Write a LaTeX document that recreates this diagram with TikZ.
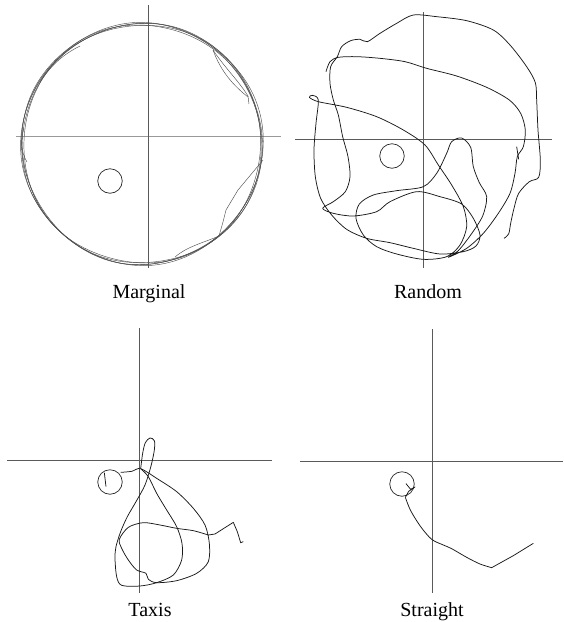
\documentclass[tikz,border=0pt]{standalone}
\usepackage{fontspec}
\setmainfont{Liberation Serif}
\usetikzlibrary{positioning}
\definecolor{axisgray}{RGB}{90,90,90}
\definecolor{lapgray}{RGB}{80,80,80}

\begin{document}
\begin{tikzpicture}[x=1pt, y=-1pt,
    axis/.style={draw=axisgray, line width=0.9pt},
    lightaxis/.style={draw=black!40, line width=0.8pt},
    track/.style={draw=black!90, line width=0.75pt, line join=round},
    lap/.style={draw=lapgray, line width=0.45pt},
    platform/.style={circle, draw=black!85, line width=0.7pt, minimum size=24.5pt, inner sep=0pt},
    caption/.style={anchor=base, inner sep=0pt, font=\fontsize{20}{24}\selectfont}
  ]
  \useasboundingbox (0,0) rectangle (564,622);

  % Marginal
  \draw[lightaxis] (16,136) -- (281,136);
  \draw[axis] (148,5) -- (148,268);
  \foreach \ph/\qh/\rd in {0/40/120, 70/200/119.3, 150/110/120.6, 230/300/119.6, 300/20/120.3}{
    \draw[lap] plot[smooth cycle, domain=0:355, samples=72]
      ({142+(\rd+1.3*sin(3*\x+\ph))*cos(\x)}, {144+(\rd+1.1*sin(4*\x+\qh))*sin(\x)});
  }
  \draw[lap] (213,50) .. controls (221,72) and (234,86) .. (248,97);
  \draw[lap] (213,50) .. controls (225,68) and (238,80) .. (248,96) -- (249,104);
  \draw[lap] (263,160) -- (238,190) -- (226,210) -- (223,222) -- (219,236);
  \draw[lap] (175,257) .. controls (188,246) and (203,243) .. (219,236);
  \draw[lap] (24,128) .. controls (20,140) and (21,152) .. (27,162);
  \draw[lap] (40,82) .. controls (52,64) and (64,54) .. (80,46);
  \node[platform] (platM) at (110,181) {};
  \node[caption] (capM) at (149,298) {Marginal};

  % Random
  \draw[axis] (295,139) -- (552,139);
  \draw[axis] (423,12) -- (423,268);
  \node[platform] (platR) at (392,156) {};
  \begin{scope}[shift={(280,0)}, scale=1/3]
    \draw[track] plot[smooth, tension=0.5] coordinates {
      (672,715) (686,702) (692,670) (702,625) (716,580) (748,545) (776,532)
      (781,480) (774,390) (770,300) (766,248) (740,200) (690,135) (640,90)
      (560,62) (470,50) (400,45) (350,70) (300,100) (262,125) (240,118)
      (212,122) (185,140) (172,170) (152,200) (150,250) (160,300) (175,345)
      (188,410) (204,470) (210,530) (196,575) (160,605) (128,625) (160,640)
      (220,648) (290,635) (330,605) (410,575) (480,590) (545,612) (580,655)
      (600,705) (588,738) (550,755) (480,762) (400,745) (330,728) (260,715)
      (200,688) (155,645) (122,595) (106,530) (102,450) (108,370) (115,300)
      (98,286) (88,292) (115,305) (200,322) (290,350) (370,390) (435,435)
      (475,495) (515,555) (550,620) (560,680) (540,735) (500,770) (430,778)
      (350,762) (290,740) (250,705) (228,655) (238,612) (280,585) (350,572)
      (430,560) (470,520) (500,460) (515,425) (545,414) (572,442) (580,500)
      (598,548) (620,590) (608,648) (572,705) (535,752) (505,772) (560,745)
      (610,700) (655,640) (690,580) (705,520) (712,470) (730,440) (736,390)
      (722,340) (688,300) (620,262) (530,228) (440,205) (375,185) (300,175)
      (230,170) (175,172) (150,185) (138,215)};
    \draw[track] (710,440) -- (716,478);
  \end{scope}
  \node[caption] (capR) at (428,298) {Random};

  % Taxis
  \draw[axis] (7,460) -- (272,460);
  \draw[axis] (139,328) -- (139,593);
  \node[platform] (platT) at (110,482) {};
  \begin{scope}[shift={(0,310)}, scale=1/3]
    \draw[track] (318,530) -- (313,488);
    \draw[track] plot[smooth, tension=0.5] coordinates {
      (362,487) (395,484) (422,476) (470,505) (530,545) (580,595) (615,645)
      (628,700) (625,755) (590,790) (530,812) (470,818) (445,808) (438,790)
      (410,780) (385,750) (365,715) (358,688) (385,652) (430,638) (480,645)
      (530,655) (580,662) (625,675)}
      -- (645,672) -- (700,637) -- (712,665) -- (722,698) -- (730,695);
    \draw[track] plot[smooth, tension=0.5] coordinates {
      (422,476) (428,430) (436,398) (450,384) (463,392) (463,420) (453,468)
      (435,525) (408,575) (382,620) (362,665) (348,710) (345,745) (350,800)
      (365,826) (420,828) (470,818) (520,795) (545,750) (546,700) (530,650)
      (500,600) (470,550) (445,500) (422,476)};
  \end{scope}
  \node[caption] (capT) at (150,616) {Taxis};

  % Straight
  \draw[axis] (300,461) -- (563,461);
  \draw[axis] (432,329) -- (432,593);
  \node[platform] (platS) at (402,484) {};
  \begin{scope}[shift={(280,310)}, scale=1/3]
    \draw[track] (378,521) -- (392,538) -- (405,531) -- (386,544) -- (376,562);
    \draw[track] plot[smooth, tension=0.5] coordinates {
      (376,562) (392,602) (422,650) (455,688) (490,705) (515,716) (560,742)
      (600,762) (635,773)} -- (700,737) -- (760,700);
  \end{scope}
  \node[caption] (capS) at (432,616) {Straight};
\end{tikzpicture}
\end{document}
